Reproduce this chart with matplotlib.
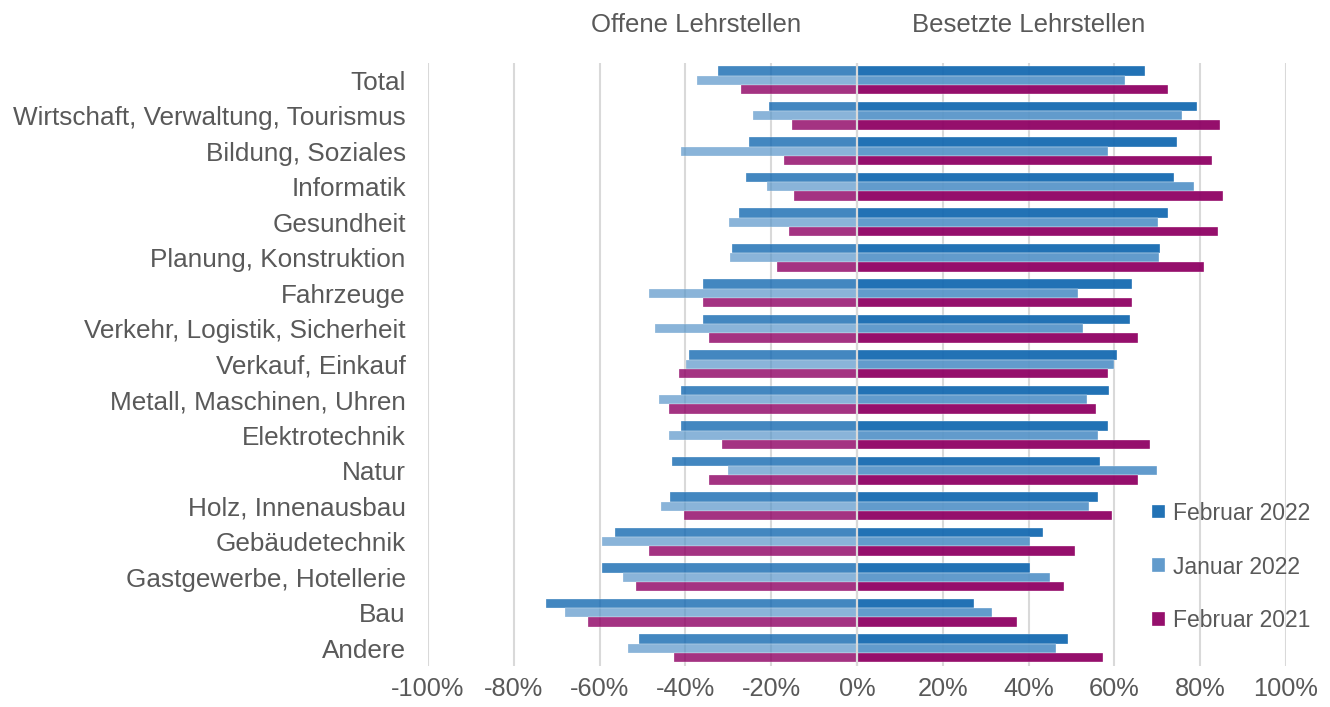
import numpy as np
import matplotlib
matplotlib.use("Agg")
import matplotlib.pyplot as plt
import matplotlib.transforms as mtransforms

plt.rcParams['font.family'] = ['Liberation Sans', 'DejaVu Sans']

# categories, top to bottom
categories = [
    "Total", "Wirtschaft, Verwaltung, Tourismus", "Bildung, Soziales", "Informatik",
    "Gesundheit", "Planung, Konstruktion", "Fahrzeuge", "Verkehr, Logistik, Sicherheit",
    "Verkauf, Einkauf", "Metall, Maschinen, Uhren", "Elektrotechnik", "Natur",
    "Holz, Innenausbau", "Gebäudetechnik", "Gastgewerbe, Hotellerie", "Bau", "Andere",
]
series = ["Februar 2022", "Januar 2022", "Februar 2021"]

# share of open apprenticeships (%), drawn to the left
offen_feb22 = [32.3, 20.4, 25.1, 25.9, 27.4, 29.2, 35.8, 35.8, 39.1, 41.1, 41.1, 43.2, 43.7, 56.5, 59.4, 72.6, 50.7]
offen_jan22 = [37.4, 24.2, 41.1, 21.0, 29.8, 29.5, 48.4, 47.2, 39.9, 46.1, 43.8, 30.1, 45.8, 59.4, 54.5, 68.1, 53.3]
offen_feb21 = [27.1, 15.2, 16.9, 14.6, 15.8, 18.7, 35.8, 34.4, 41.4, 43.8, 31.5, 34.4, 40.3, 48.6, 51.6, 62.6, 42.6]

# share of filled apprenticeships (%), drawn to the right
besetzt_feb22 = [67.2, 79.2, 74.5, 74.0, 72.4, 70.7, 64.0, 63.7, 60.5, 58.8, 58.5, 56.7, 56.2, 43.3, 40.4, 27.3, 49.2]
besetzt_jan22 = [62.5, 75.7, 58.4, 78.6, 70.1, 70.4, 51.4, 52.7, 59.9, 53.5, 56.1, 69.9, 54.1, 40.4, 45.1, 31.4, 46.5]
besetzt_feb21 = [72.4, 84.7, 82.7, 85.3, 84.1, 81.0, 64.0, 65.4, 58.5, 55.8, 68.4, 65.4, 59.4, 50.9, 48.3, 37.2, 57.3]

x_ticks = [-100, -80, -60, -40, -20, 0, 20, 40, 60, 80, 100]

colors = ["#1469B1", "#5895C9", "#8E0063"]
left_alpha = [0.8, 0.7, 0.8]
text_color = "#595959"
grid_color = "#D9D9D9"

offen = [offen_feb22, offen_jan22, offen_feb21]
besetzt = [besetzt_feb22, besetzt_jan22, besetzt_feb21]

fig = plt.figure(figsize=(13.3, 7.07), dpi=100)
ax = fig.add_axes([428 / 1330, 1 - 666 / 707, (1286 - 428) / 1330, (666 - 62.5) / 707])

y = np.arange(len(categories))
h = 0.265
offsets = [-h, 0, h]

for k in range(3):
    ax.barh(y + offsets[k], -np.array(offen[k]), height=h, color=colors[k],
            alpha=left_alpha[k], edgecolor="white", linewidth=0.25, zorder=2)
    ax.barh(y + offsets[k], besetzt[k], height=h, color=colors[k], alpha=0.94,
            edgecolor="white", linewidth=0.25, zorder=2, label=series[k])

ax.set_xlim(-100, 100)
ax.set_ylim(len(categories) - 0.5, -0.5)
ax.set_xticks(x_ticks)
ax.set_xticklabels([f"{t}%" for t in x_ticks])
ax.set_yticks(y)
ax.set_yticklabels(categories)
ax.tick_params(axis="x", length=0, colors=text_color, labelsize=18.3, pad=8)
ax.tick_params(axis="y", length=0, colors=text_color, labelsize=18.8, pad=16)

for s in ax.spines.values():
    s.set_visible(False)
ax.grid(axis="x", color=grid_color, linewidth=1.5, zorder=0)
ax.set_axisbelow(True)
ax.axvline(0, color=grid_color, linewidth=1.6, zorder=3)

trans = mtransforms.blended_transform_factory(ax.transData, ax.transAxes)
ax.text(-37.5, 1.062, "Offene Lehrstellen", transform=trans, ha="center", va="center",
        fontsize=18.5, color=text_color)
ax.text(40, 1.062, "Besetzte Lehrstellen", transform=trans, ha="center", va="center",
        fontsize=18.5, color=text_color)

leg = ax.legend(loc="center left", bbox_to_anchor=(1152 / 1330, 1 - 567 / 707),
                bbox_transform=fig.transFigure, frameon=False, fontsize=16.5,
                handlelength=0.55, handleheight=0.55, handletextpad=0.35,
                labelspacing=1.35, borderpad=0, borderaxespad=0)
for t in leg.get_texts():
    t.set_color(text_color)

fig.savefig("out.png", dpi=100)
